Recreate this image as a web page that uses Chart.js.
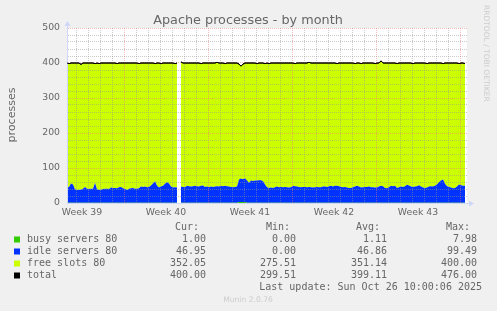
<!DOCTYPE html>
<html>
<head>
<meta charset="utf-8">
<script src="https://cdn.jsdelivr.net/npm/chart.js@4"></script>
<style>
  html, body { margin: 0; padding: 0; background: #f0f0f0; }
</style>
</head>
<body>
<canvas id="chart" width="497" height="311"></canvas>
<script>
// ============================================
// Apache processes - by month (munin look-alike)
// ============================================

// one sample every 4 hours (null = no data)
const weekLabels = ['Week 39', 'Week 40', 'Week 41', 'Week 42', 'Week 43'];

const busy = [
  1,1,1,1,1,1,1,1,1,1,1,1,1,1,1,1,1,1,1,1,
  1,1,1,1,1,1,1,1,1,1,1,1,1,1,1,1,1,1,1,1,
  1,1,1,1,1,1,1,1,1,1,1,1,1,1,1,1,null,1,1,1,
  1,1,1,1,1,1,1,1,1,1,1,1,1,1,1,1,1,1,1,1,
  1,1,1,1,1,1,3,3,3,3,1,1,1,1,1,1,1,1,1,1,
  1,1,1,1,1,1,1,1,1,1,1,1,1,1,1,1,1,1,1,1,
  1,1,1,1,1,1,1,1,1,1,1,1,1,1,1,1,1,1,1,1,
  1,1,1,1,1,1,1,1,1,1,1,1,1,1,1,1,1,1,1,1,
  1,1,1,1,1,1,1,1,1,1,1,1,1,1,1,1,1,1,1,1,
  1,1,1,1,1,1,1,1,1,1,1,1,1,1,1,1,1,1,1,1
];

const idle = [
  43,45,55,52,38,36,37,37,40,45,40,39,40,40,56,38,36,37,39,40,
  40,39,43,42,42,41,44,45,41,39,36,40,41,42,40,40,41,46,45,46,
  44,45,49,55,61,48,43,46,48,54,58,55,46,43,44,43,null,46,45,44,
  48,47,46,47,48,47,46,48,49,45,46,44,46,45,46,47,46,48,47,48,
  47,46,45,44,45,46,64,67,65,68,63,57,63,62,63,63,64,64,61,52,
  44,42,43,42,44,46,44,45,44,45,44,43,44,48,47,46,45,44,45,45,
  44,45,44,43,44,45,44,44,46,46,45,47,48,46,48,48,47,45,44,45,
  43,42,42,44,46,48,46,43,44,45,45,46,44,44,43,43,46,48,47,42,
  41,44,48,47,48,42,44,46,45,47,51,49,46,45,46,47,50,46,43,42,
  43,46,47,46,48,52,58,63,66,54,47,45,43,41,42,46,52,50,48,48
];

const total = [
  400,398,400,400,400,400,400,396,400,400,400,400,400,400,398,400,398,400,400,400,
  400,400,400,400,400,398,400,400,400,400,400,400,400,400,400,400,398,400,400,400,
  400,400,400,400,398,400,400,398,400,400,400,400,400,400,398,400,null,403,400,400,
  400,400,400,400,400,400,400,398,400,400,400,400,400,400,400,402,400,400,400,398,
  400,400,400,400,400,400,397,391,397,400,400,400,400,400,400,398,400,400,400,398,
  400,398,400,400,400,400,400,400,400,400,400,400,400,400,398,400,400,400,400,400,
  400,402,400,400,400,400,400,400,400,400,400,400,400,400,400,398,400,400,400,400,
  400,400,400,400,398,400,400,398,400,400,400,400,400,400,398,400,400,406,400,400,
  400,400,400,400,400,398,400,400,400,400,400,400,400,398,400,400,400,400,400,400,
  398,400,400,400,400,400,400,400,398,400,400,400,400,400,400,400,398,400,400,398
];

const seriesNames = ['busy servers 80', 'idle servers 80', 'free slots 80', 'total'];
const seriesColors = ['#33CC00', '#0033FF', '#CCFF00', '#000000'];
const curVals = ['1.00', '46.95', '352.05', '400.00'];
const minVals = ['0.00', '0.00', '275.51', '299.51'];
const avgVals = ['1.11', '46.86', '351.14', '399.11'];
const maxVals = ['7.98', '99.49', '400.00', '476.00'];
const lastUpdate = 'Last update: Sun Oct 26 10:00:06 2025';

// x axis is in hours since the left edge of the graph
const SAMPLE_HOURS = 4;
const RANGE_HOURS = 800;
const sampleHours = idle.map((_, i) => i * SAMPLE_HOURS);
const dayLines = [];
for (let h = 18; h < RANGE_HOURS; h += 24) dayLines.push(h);
const weekLines = dayLines.filter((h, k) => k % 7 === 4);
const weekLabelHours = weekLabels.map((_, j) => 30 + 168 * j);
const xTickValues = dayLines.concat(weekLabelHours).sort((a, b) => a - b);

const GREY = 'rgba(150,150,150,0.5)';
const RED = 'rgba(235,120,120,0.5)';
const AXIS = '#CFD6F8';
const FONT = '#666666';

const pts = arr => arr.map((v, i) => ({ x: sampleHours[i], y: v }));

// munin style: white canvas, arrows, title, legend table, watermarks
const muninDecor = {
  id: 'muninDecor',
  beforeDraw(chart) {
    const { ctx, chartArea: a } = chart;
    ctx.save();
    ctx.fillStyle = '#ffffff';
    ctx.fillRect(a.left, a.top, a.right - a.left, a.bottom - a.top);
    ctx.restore();
  },
  afterDraw(chart) {
    const { ctx, chartArea: a } = chart;
    ctx.save();

    // the total line sits above the grid, like rrdtool's LINE1
    ctx.save();
    ctx.beginPath();
    ctx.rect(a.left, a.top - 4, a.right - a.left, a.bottom - a.top + 4);
    ctx.clip();
    chart.getDatasetMeta(3).dataset.draw(ctx, a);
    ctx.restore();

    // axis arrows
    ctx.strokeStyle = AXIS; ctx.fillStyle = AXIS; ctx.lineWidth = 1;
    ctx.beginPath();
    ctx.moveTo(a.left + 0.5, a.top); ctx.lineTo(a.left + 0.5, a.top - 4);
    ctx.moveTo(a.right, a.bottom + 0.5); ctx.lineTo(a.right + 4, a.bottom + 0.5);
    ctx.stroke();
    ctx.beginPath();
    ctx.moveTo(a.left - 2.5, a.top - 2); ctx.lineTo(a.left + 3.5, a.top - 2); ctx.lineTo(a.left + 0.5, a.top - 7);
    ctx.closePath(); ctx.fill();
    ctx.beginPath();
    ctx.moveTo(a.right + 2, a.bottom - 2.5); ctx.lineTo(a.right + 2, a.bottom + 3.5); ctx.lineTo(a.right + 7, a.bottom + 0.5);
    ctx.closePath(); ctx.fill();

    // title
    ctx.fillStyle = FONT;
    ctx.font = '12.8px "DejaVu Sans"';
    ctx.textAlign = 'center'; ctx.textBaseline = 'alphabetic';
    ctx.fillText('Apache processes - by month', 248, 23.5);

    // vertical axis title
    ctx.save();
    ctx.translate(15, 115);
    ctx.rotate(-Math.PI / 2);
    ctx.font = '11px "DejaVu Sans"';
    ctx.fillText('processes', 0, 0);
    ctx.restore();

    // legend table
    ctx.font = '10px "DejaVu Sans Mono"';
    ctx.textBaseline = 'middle';
    ctx.textAlign = 'right';
    ctx.fillText('Cur:', 199, 227.5);
    ctx.fillText('Min:', 290, 227.5);
    ctx.fillText('Avg:', 380, 227.5);
    ctx.fillText('Max:', 470, 227.5);
    seriesNames.forEach((name, i) => {
      const cy = 239.5 + i * 12;
      ctx.fillStyle = seriesColors[i];
      ctx.fillRect(14, cy - 3, 6, 6);
      ctx.fillStyle = FONT;
      ctx.textAlign = 'left';
      ctx.fillText(name, 27, cy);
      ctx.textAlign = 'right';
      ctx.fillText(curVals[i], 206, cy);
      ctx.fillText(minVals[i], 296, cy);
      ctx.fillText(avgVals[i], 387, cy);
      ctx.fillText(maxVals[i], 477, cy);
    });
    ctx.fillText(lastUpdate, 482, 287.5);

    // watermarks
    ctx.fillStyle = '#cccccc';
    ctx.textAlign = 'center';
    ctx.font = '7.6px "DejaVu Sans"';
    ctx.fillText('Munin 2.0.76', 248, 300.5);
    ctx.save();
    ctx.translate(484, 5);
    ctx.rotate(Math.PI / 2);
    ctx.textAlign = 'left'; ctx.textBaseline = 'alphabetic';
    ctx.font = '7.5px "DejaVu Sans"';
    ctx.fillText('RRDTOOL / TOBI OETIKER', 0, 0);
    ctx.restore();

    ctx.restore();
  }
};

const areaDefaults = { borderWidth: 0, borderColor: 'rgba(0,0,0,0)', pointRadius: 0, tension: 0 };

new Chart(document.getElementById('chart'), {
  type: 'line',
  data: {
    datasets: [
      { ...areaDefaults, label: seriesNames[0], data: pts(busy), stack: 'proc', fill: 'origin', backgroundColor: seriesColors[0] },
      { ...areaDefaults, label: seriesNames[1], data: pts(idle), stack: 'proc', fill: '-1', backgroundColor: seriesColors[1] },
      // free slots = space between the idle stack and the total line
      { ...areaDefaults, label: seriesNames[2], data: pts(total), stack: 'free', fill: 1, backgroundColor: seriesColors[2] },
      { label: seriesNames[3], data: pts(total), stack: 'total', fill: false, borderColor: '#000000', borderWidth: 1, pointRadius: 0, tension: 0, order: -1 }
    ]
  },
  options: {
    responsive: false,
    animation: false,
    devicePixelRatio: 1,
    layout: { padding: { left: 0, top: 28, right: 30, bottom: 0 } },
    plugins: { legend: { display: false }, tooltip: { enabled: false } },
    scales: {
      x: {
        type: 'linear', min: 0, max: RANGE_HOURS,
        afterBuildTicks: s => { s.ticks = xTickValues.map(v => ({ value: v })); },
        afterFit: s => { s.height = 108; s.paddingLeft = 0; s.paddingRight = 0; },
        grid: {
          z: 1, drawTicks: false, lineWidth: 1,
          color: c => weekLabelHours.includes(c.tick.value) ? 'rgba(0,0,0,0)' : (weekLines.includes(c.tick.value) ? RED : GREY)
        },
        border: { z: 2, color: AXIS, width: 1, dash: [1, 1] },
        ticks: {
          autoSkip: false, maxRotation: 0, padding: 4, color: FONT,
          font: { family: 'DejaVu Sans', size: 9.3 },
          callback: v => { const j = weekLabelHours.indexOf(v); return j >= 0 ? weekLabels[j] : ''; }
        }
      },
      y: {
        stacked: true, min: 0, max: 500,
        afterFit: s => { s.width = 67; s.paddingTop = 0; s.paddingBottom = 0; },
        grid: {
          z: 1, drawTicks: false, lineWidth: 1,
          color: c => c.tick.value === 0 ? 'rgba(0,0,0,0)' : (c.tick.value % 100 === 0 ? RED : GREY)
        },
        border: { z: 2, color: AXIS, width: 1, dash: [1, 1] },
        ticks: {
          stepSize: 20, autoSkip: false, padding: 7, color: FONT,
          font: { family: 'DejaVu Sans', size: 9.3 },
          callback: v => v % 100 === 0 ? v : ''
        }
      }
    }
  },
  plugins: [muninDecor]
});
</script>
</body>
</html>
